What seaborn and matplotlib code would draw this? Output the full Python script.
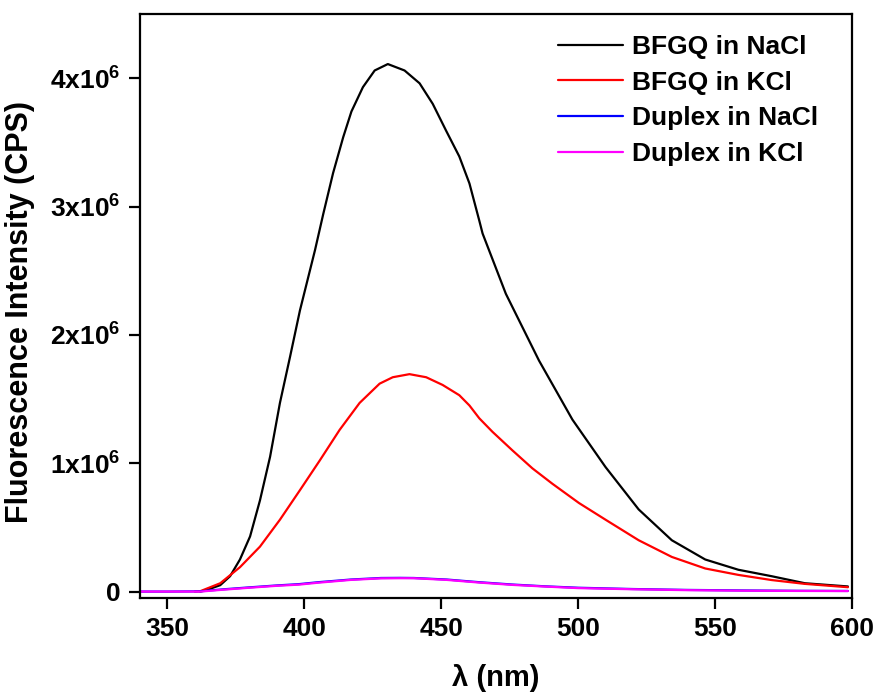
import matplotlib
matplotlib.use("Agg")
import matplotlib.pyplot as plt
import numpy as np
import pandas as pd
import seaborn as sns

# ---------------- data ----------------
series_names = ["BFGQ in NaCl", "BFGQ in KCl", "Duplex in NaCl", "Duplex in KCl"]
series_colors = ["#000000", "#ff0000", "#0000ff", "#ff00ff"]

wl_bfgq_nacl = [362, 364.4, 369.3, 372.9, 376.5, 380.2, 383.8, 387.5, 391.1, 394.8,
                398.4, 403.9, 406.9, 410.5, 414.2, 417.2, 421.4, 425.7, 430.5, 436.6,
                442.1, 446.9, 451.8, 456.6, 460.3, 463.9, 465.1, 473.6, 485.7, 497.9,
                510.0, 522.1, 534.2, 546.4, 558.5, 570.6, 582.8, 598.5]
int_bfgq_nacl = [0.0, 0.013, 0.05, 0.12, 0.25, 0.43, 0.71, 1.05, 1.47, 1.83,
                 2.19, 2.66, 2.94, 3.26, 3.54, 3.74, 3.93, 4.06, 4.11, 4.06,
                 3.96, 3.80, 3.59, 3.39, 3.18, 2.89, 2.79, 2.32, 1.80, 1.34,
                 0.97, 0.64, 0.40, 0.25, 0.17, 0.12, 0.065, 0.04]

wl_bfgq_kcl = [360, 362, 369.3, 376.5, 383.8, 391.1, 398.4, 405.6, 412.9, 420.2,
               427.5, 432.3, 438.4, 444.5, 450.5, 456.6, 460.3, 463.9, 468.7, 476.0,
               483.3, 490.6, 500.3, 510.0, 522.1, 534.2, 546.4, 558.5, 570.6, 582.8,
               598.5]
int_bfgq_kcl = [0.0, 0.003, 0.065, 0.19, 0.35, 0.56, 0.79, 1.02, 1.26, 1.47,
                1.62, 1.67, 1.694, 1.67, 1.61, 1.53, 1.45, 1.35, 1.245, 1.10,
                0.96, 0.84, 0.69, 0.56, 0.40, 0.27, 0.18, 0.13, 0.09, 0.06,
                0.034]

wl_duplex_nacl = [340, 350, 362, 370, 380, 390, 398, 405, 417, 428, 435, 440,
                  452, 464, 476, 488, 500, 520, 540, 560, 580, 598.5]
int_duplex_nacl = [0.0, 0.0, 0.002, 0.017, 0.033, 0.048, 0.058, 0.073, 0.094, 0.106,
                   0.107, 0.106, 0.094, 0.073, 0.055, 0.041, 0.030, 0.020, 0.013,
                   0.009, 0.006, 0.005]

wl_duplex_kcl = [340, 350, 362, 370, 380, 390, 398, 405, 417, 428, 435, 440,
                 452, 464, 476, 488, 500, 520, 540, 560, 580, 598.5]
int_duplex_kcl = [0.0, 0.0, 0.0, 0.014, 0.030, 0.045, 0.054, 0.069, 0.091, 0.103,
                  0.104, 0.104, 0.091, 0.070, 0.052, 0.039, 0.027, 0.018, 0.011,
                  0.007, 0.005, 0.004]

x_ticks = [350, 400, 450, 500, 550, 600]
y_ticks = [0, 1e6, 2e6, 3e6, 4e6]
y_tick_labels = ["0", "1x10$^{6}$", "2x10$^{6}$", "3x10$^{6}$", "4x10$^{6}$"]
x_label = "λ (nm)"
y_label = "Fluorescence Intensity (CPS)"

# ---------------- build table ----------------
frames = []
for name, wl, val in zip(series_names,
                         [wl_bfgq_nacl, wl_bfgq_kcl, wl_duplex_nacl, wl_duplex_kcl],
                         [int_bfgq_nacl, int_bfgq_kcl, int_duplex_nacl, int_duplex_kcl]):
    frames.append(pd.DataFrame({"wl": wl, "I": np.array(val) * 1e6, "series": name}))
df = pd.concat(frames, ignore_index=True)

# ---------------- style ----------------
sns.set_style("ticks")
plt.rcParams["font.family"] = ["Liberation Sans", "DejaVu Sans"]
plt.rcParams["font.weight"] = "bold"
plt.rcParams["mathtext.default"] = "regular"
plt.rcParams["text.color"] = "black"
plt.rcParams["axes.labelcolor"] = "black"
plt.rcParams["xtick.color"] = "black"
plt.rcParams["ytick.color"] = "black"

fig = plt.figure(figsize=(8.78, 6.92), dpi=100)
ax = fig.add_axes([140 / 878, 1 - 598 / 692, 712 / 878, 584 / 692])

sns.lineplot(data=df, x="wl", y="I", hue="series", hue_order=series_names,
             palette=dict(zip(series_names, series_colors)), estimator=None,
             sort=False, linewidth=1.6, ax=ax)

ax.set_xlim(340, 600)
ax.set_ylim(-0.05e6, 4.5e6)
ax.set_xticks(x_ticks)
ax.set_xticklabels([str(t) for t in x_ticks])
ax.set_yticks(y_ticks)
ax.set_yticklabels(y_tick_labels)

for s in ax.spines.values():
    s.set_linewidth(1.6)
    s.set_color("black")
ax.tick_params(axis="both", which="major", direction="out", length=8, width=1.6,
               labelsize=19, pad=6, colors="black", labelcolor="black")
for lab in ax.get_xticklabels() + ax.get_yticklabels():
    lab.set_fontweight("bold")

ax.set_xlabel(x_label, fontsize=21, fontweight="bold", color="black")
ax.set_ylabel(y_label, fontsize=22, fontweight="bold", color="black")
ax.xaxis.set_label_coords(0.5, -0.113)
ax.yaxis.set_label_coords(-0.1475, 0.49)

handles, labels = ax.get_legend_handles_labels()
leg = ax.legend(handles, labels, loc="upper left", bbox_to_anchor=(0.587, 0.964),
                frameon=False, fontsize=19, handlelength=2.46, handletextpad=0.33,
                labelspacing=0.44, borderpad=0, borderaxespad=0)
for t in leg.get_texts():
    t.set_fontweight("bold")
    t.set_color("black")
for l in leg.get_lines():
    l.set_linewidth(1.6)

fig.savefig("out.png", dpi=100)
